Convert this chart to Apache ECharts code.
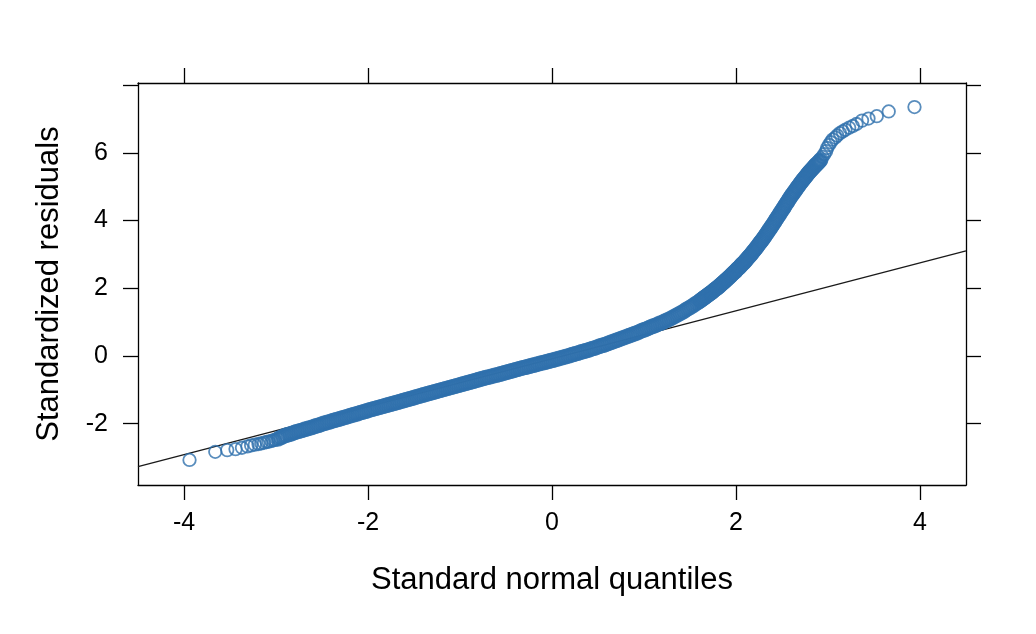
<!DOCTYPE html>
<html>
<head>
<meta charset="utf-8">
<script src="https://cdn.jsdelivr.net/npm/echarts@6/dist/echarts.min.js"></script>
<style>
html,body{margin:0;padding:0;background:#fff;}
#chart{width:1036px;height:634px;}
</style>
</head>
<body>
<div id="chart"></div>
<script>
// Theoretical (standard normal) quantiles
const qx = [
-3.94,-3.66,-3.53,-3.44,-3.37,-3.31,-3.27,-3.23,-3.19,-3.16,-3.13,-3.10,-3.08,-3.05,-3.03,-3.01,
-2.98,-2.96,-2.94,-2.92,-2.90,-2.88,-2.86,-2.84,-2.82,-2.80,
-2.78,-2.76,-2.74,-2.72,-2.70,-2.68,-2.66,-2.64,-2.62,-2.60,
-2.58,-2.56,-2.54,-2.52,-2.50,-2.48,-2.46,-2.44,-2.42,-2.40,
-2.38,-2.36,-2.34,-2.32,-2.30,-2.28,-2.26,-2.24,-2.22,-2.20,
-2.18,-2.16,-2.14,-2.12,-2.10,-2.08,-2.06,-2.04,-2.02,-2.00,
-1.98,-1.96,-1.94,-1.92,-1.90,-1.88,-1.86,-1.84,-1.82,-1.80,
-1.78,-1.76,-1.74,-1.72,-1.70,-1.68,-1.66,-1.64,-1.62,-1.60,
-1.58,-1.56,-1.54,-1.52,-1.50,-1.48,-1.46,-1.44,-1.42,-1.40,
-1.38,-1.36,-1.34,-1.32,-1.30,-1.28,-1.26,-1.24,-1.22,-1.20,
-1.18,-1.16,-1.14,-1.12,-1.10,-1.08,-1.06,-1.04,-1.02,-1.00,
-0.98,-0.96,-0.94,-0.92,-0.90,-0.88,-0.86,-0.84,-0.82,-0.80,
-0.78,-0.76,-0.74,-0.72,-0.70,-0.68,-0.66,-0.64,-0.62,-0.60,
-0.58,-0.56,-0.54,-0.52,-0.50,-0.48,-0.46,-0.44,-0.42,-0.40,
-0.38,-0.36,-0.34,-0.32,-0.30,-0.28,-0.26,-0.24,-0.22,-0.20,
-0.18,-0.16,-0.14,-0.12,-0.10,-0.08,-0.06,-0.04,-0.02,0.00,
0.02,0.04,0.06,0.08,0.10,0.12,0.14,0.16,0.18,0.20,
0.22,0.24,0.26,0.28,0.30,0.32,0.34,0.36,0.38,0.40,
0.42,0.44,0.46,0.48,0.50,0.52,0.54,0.56,0.58,0.60,
0.62,0.64,0.66,0.68,0.70,0.72,0.74,0.76,0.78,0.80,
0.82,0.84,0.86,0.88,0.90,0.92,0.94,0.96,0.98,1.00,
1.02,1.04,1.06,1.08,1.10,1.12,1.14,1.16,1.18,1.20,
1.22,1.24,1.26,1.28,1.30,1.32,1.34,1.36,1.38,1.40,
1.42,1.44,1.46,1.48,1.50,1.52,1.54,1.56,1.58,
1.60,1.61,1.62,1.63,1.64,1.65,1.66,1.67,1.68,1.69,
1.70,1.71,1.72,1.73,1.74,1.75,1.76,1.77,1.78,1.79,
1.80,1.81,1.82,1.83,1.84,1.85,1.86,1.87,1.88,1.89,
1.90,1.91,1.92,1.93,1.94,1.95,1.96,1.97,1.98,1.99,
2.00,2.01,2.02,2.03,2.04,2.05,2.06,2.07,2.08,2.09,
2.10,2.11,2.12,2.13,2.14,2.15,2.16,2.17,2.18,2.19,
2.20,2.21,2.22,2.23,2.24,2.25,2.26,2.27,2.28,2.29,
2.30,2.31,2.32,2.33,2.34,2.35,2.36,2.37,2.38,2.39,
2.40,2.41,2.42,2.43,2.44,2.45,2.46,2.47,2.48,2.49,
2.50,2.51,2.52,2.53,2.54,2.55,2.56,2.57,2.58,2.59,
2.60,2.61,2.62,2.63,2.64,2.65,2.66,2.67,2.68,2.69,
2.70,2.71,2.72,2.73,2.74,2.75,2.76,2.77,2.78,2.79,
2.80,2.81,2.82,2.83,2.84,2.85,2.86,2.87,2.88,2.89,
2.90,2.91,2.92,
2.94,2.96,2.98,2.99,3.01,3.03,3.05,3.08,3.10,3.13,3.16,3.19,3.23,3.27,3.31,3.37,3.44,3.53,3.66,3.94
];
// Standardized residuals (sorted)
const qy = [
-3.07,-2.83,-2.78,-2.75,-2.71,-2.67,-2.64,-2.62,-2.60,-2.58,-2.56,-2.54,-2.53,-2.51,-2.49,-2.48,
-2.45,-2.42,-2.40,-2.37,-2.35,-2.33,-2.32,-2.30,-2.28,-2.26,
-2.24,-2.23,-2.21,-2.20,-2.18,-2.16,-2.15,-2.13,-2.12,-2.10,
-2.08,-2.06,-2.05,-2.03,-2.01,-1.99,-1.98,-1.96,-1.95,-1.93,
-1.91,-1.90,-1.88,-1.87,-1.85,-1.83,-1.82,-1.80,-1.79,-1.77,
-1.75,-1.74,-1.72,-1.71,-1.69,-1.67,-1.66,-1.64,-1.63,-1.61,
-1.59,-1.58,-1.56,-1.55,-1.53,-1.52,-1.50,-1.49,-1.47,-1.46,
-1.44,-1.43,-1.41,-1.40,-1.38,-1.37,-1.35,-1.34,-1.32,-1.31,
-1.29,-1.28,-1.26,-1.25,-1.23,-1.21,-1.20,-1.18,-1.17,-1.15,
-1.14,-1.12,-1.11,-1.09,-1.08,-1.06,-1.05,-1.03,-1.02,-1.00,
-0.99,-0.97,-0.96,-0.94,-0.93,-0.91,-0.90,-0.88,-0.87,-0.85,
-0.84,-0.82,-0.81,-0.79,-0.78,-0.76,-0.75,-0.73,-0.72,-0.70,
-0.69,-0.67,-0.66,-0.64,-0.63,-0.62,-0.60,-0.59,-0.57,-0.56,
-0.55,-0.53,-0.52,-0.50,-0.49,-0.47,-0.46,-0.44,-0.43,-0.41,
-0.40,-0.38,-0.37,-0.35,-0.34,-0.33,-0.31,-0.30,-0.28,-0.27,
-0.26,-0.24,-0.23,-0.21,-0.20,-0.19,-0.17,-0.16,-0.14,-0.13,
-0.12,-0.10,-0.09,-0.07,-0.06,-0.04,-0.03,-0.01,0.00,0.02,
0.04,0.05,0.07,0.08,0.10,0.12,0.13,0.15,0.16,0.18,
0.20,0.22,0.23,0.25,0.27,0.29,0.31,0.32,0.34,0.36,
0.38,0.40,0.42,0.44,0.46,0.48,0.50,0.52,0.54,0.56,
0.58,0.60,0.62,0.64,0.66,0.68,0.70,0.73,0.75,0.77,
0.79,0.81,0.84,0.86,0.88,0.90,0.92,0.95,0.97,0.99,
1.02,1.04,1.07,1.09,1.12,1.15,1.18,1.21,1.24,1.27,
1.30,1.33,1.37,1.40,1.43,1.47,1.50,1.54,1.57,
1.61,1.63,1.65,1.67,1.69,1.71,1.73,1.75,1.77,1.79,
1.81,1.83,1.85,1.87,1.89,1.91,1.94,1.96,1.98,2.00,
2.02,2.04,2.07,2.09,2.12,2.14,2.16,2.19,2.21,2.24,
2.26,2.29,2.31,2.34,2.36,2.39,2.42,2.44,2.47,2.49,
2.52,2.55,2.58,2.60,2.63,2.66,2.69,2.72,2.74,2.77,
2.80,2.83,2.86,2.90,2.93,2.96,2.99,3.02,3.06,3.09,
3.12,3.16,3.19,3.23,3.26,3.30,3.34,3.37,3.41,3.44,
3.48,3.52,3.56,3.60,3.64,3.68,3.72,3.76,3.80,3.84,
3.88,3.92,3.96,4.01,4.05,4.09,4.13,4.17,4.22,4.26,
4.30,4.34,4.38,4.43,4.47,4.51,4.55,4.59,4.64,4.68,
4.72,4.76,4.80,4.83,4.87,4.91,4.95,4.99,5.02,5.06,
5.10,5.13,5.17,5.20,5.24,5.27,5.30,5.34,5.37,5.41,
5.44,5.47,5.50,5.53,5.56,5.59,5.62,5.65,5.67,5.70,
5.73,5.76,5.79,
5.88,5.96,6.05,6.14,6.23,6.31,6.39,6.45,6.51,6.58,6.63,6.68,6.74,6.79,6.85,6.95,7.01,7.08,7.22,7.35
];
// Reference (qq) line end points
const lineX = [-4.5, 4.5];
const lineY = [-3.27, 3.10];
// Ticks and labels
const xTicks = [-4, -2, 0, 2, 4];
const yTicks = [-2, 0, 2, 4, 6, 8];
const yLabels = [-2, 0, 2, 4, 6];
const xTitle = 'Standard normal quantiles';
const yTitle = 'Standardized residuals';

const X_MIN = -4.5, X_MAX = 4.5, Y_MIN = -3.81, Y_MAX = 8.06;
const FONT = 'Liberation Sans, Arial, sans-serif';
const BLUE = '#2f70ad';

const points = qx.map((x, i) => [x, qy[i]]);
// the sparse tails (individual circles) and the dense central band (overlapping circles)
const tailPts = points.filter(p => p[0] < -3.0 || p[0] > 2.93);
const bandPts = points.filter(p => p[0] >= -3.0 && p[0] <= 2.93);
const linePts = lineX.map((x, i) => [x, lineY[i]]);

const axisLine = {show: true, onZero: false, lineStyle: {color: '#000', width: 1.3}};
const tick = (vals) => ({show: true, inside: false, length: 15, customValues: vals, lineStyle: {color: '#000', width: 1.3}});

const chart = echarts.init(document.getElementById('chart'), null, {renderer: 'canvas'});
chart.setOption({
  animation: false,
  backgroundColor: '#fff',
  grid: {left: 138, top: 83, right: 70, bottom: 149, show: false},
  xAxis: [
    {type: 'value', position: 'bottom', min: X_MIN, max: X_MAX,
     axisLine: axisLine, axisTick: tick(xTicks), splitLine: {show: false},
     axisLabel: {customValues: xTicks, color: '#000', fontSize: 25, fontFamily: FONT, margin: 26},
     name: xTitle, nameLocation: 'middle', nameGap: 80,
     nameTextStyle: {color: '#000', fontSize: 31, fontFamily: FONT}},
    {type: 'value', position: 'top', min: X_MIN, max: X_MAX,
     axisLine: axisLine, axisTick: tick(xTicks), splitLine: {show: false},
     axisLabel: {show: false}}
  ],
  yAxis: [
    {type: 'value', position: 'left', min: Y_MIN, max: Y_MAX,
     axisLine: axisLine, axisTick: tick(yTicks), splitLine: {show: false},
     axisLabel: {customValues: yLabels, color: '#000', fontSize: 25, fontFamily: FONT, margin: 30},
     name: yTitle, nameLocation: 'middle', nameGap: 73,
     nameTextStyle: {color: '#000', fontSize: 31, fontFamily: FONT}},
    {type: 'value', position: 'right', min: Y_MIN, max: Y_MAX,
     axisLine: axisLine, axisTick: tick(yTicks), splitLine: {show: false},
     axisLabel: {show: false}}
  ],
  series: [
    {type: 'line', data: linePts, xAxisIndex: 0, yAxisIndex: 0, symbol: 'none', clip: true,
     silent: true, z: 1, lineStyle: {color: '#1a1a1a', width: 1.3}},
    {type: 'scatter', data: bandPts, xAxisIndex: 0, yAxisIndex: 0, symbol: 'circle', symbolSize: 13,
     silent: true, z: 2, clip: true,
     itemStyle: {color: 'rgba(0,0,0,0)', borderColor: BLUE, borderWidth: 2.6}},
    {type: 'scatter', data: tailPts, xAxisIndex: 0, yAxisIndex: 0, symbol: 'circle', symbolSize: 12.5,
     silent: true, z: 3, clip: true,
     itemStyle: {color: 'rgba(0,0,0,0)', borderColor: BLUE, borderWidth: 1.8}}
  ]
});
</script>
</body>
</html>
